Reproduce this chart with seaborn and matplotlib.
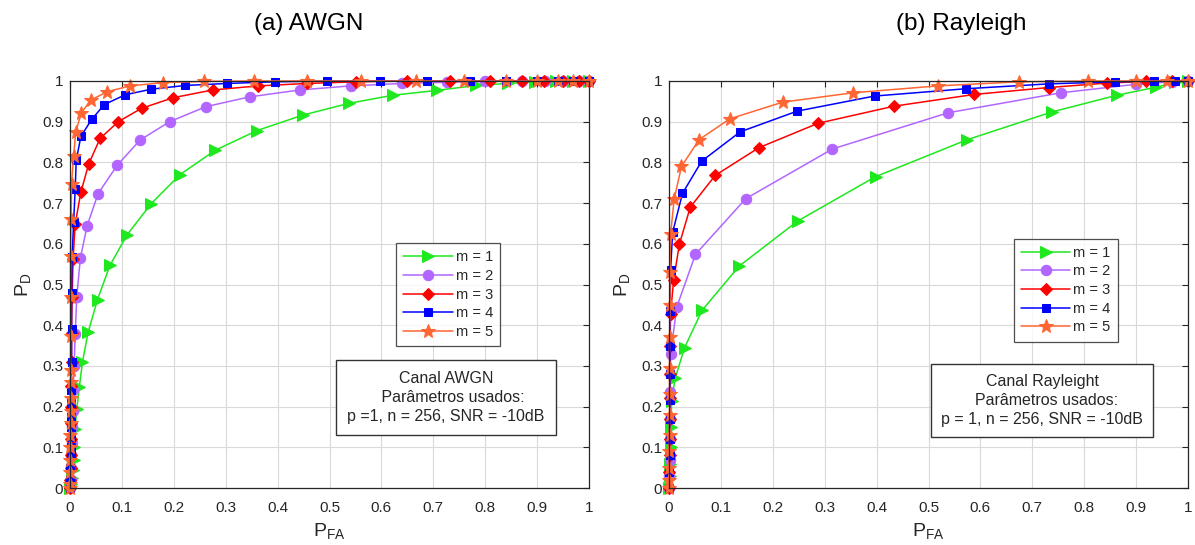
import matplotlib
matplotlib.use("Agg")
import matplotlib.pyplot as plt
from matplotlib.patches import Rectangle
import seaborn as sns

# ---------------- data: ROC curves (P_FA, P_D) ----------------
labels = ["m = 1", "m = 2", "m = 3", "m = 4", "m = 5"]

# (a) AWGN channel
awgn_pfa_m1 = [0, 0.002, 0.004, 0.005, 0.007, 0.008, 0.0095, 0.013, 0.018, 0.024, 0.035, 0.053, 0.077,
               0.11, 0.156, 0.212, 0.28, 0.36, 0.448, 0.537, 0.622, 0.707, 0.783, 0.843, 0.896, 0.936, 0.97, 1.0]
awgn_pd_m1 = [0, 0.01, 0.025, 0.045, 0.07, 0.10, 0.144, 0.193, 0.248, 0.31, 0.383, 0.463, 0.547,
              0.622, 0.698, 0.77, 0.83, 0.878, 0.916, 0.945, 0.965, 0.977, 0.989, 0.994, 0.998, 0.999, 1.0, 1.0]

awgn_pfa_m2 = [0, 0.001, 0.002, 0.002, 0.003, 0.004, 0.005, 0.006, 0.008, 0.01, 0.013, 0.02, 0.033, 0.054,
               0.091, 0.135, 0.192, 0.262, 0.346, 0.443, 0.541, 0.64, 0.727, 0.80, 0.87, 0.916, 0.95, 0.98, 1.0]
awgn_pd_m2 = [0, 0.02, 0.05, 0.08, 0.11, 0.15, 0.19, 0.24, 0.30, 0.378, 0.47, 0.565, 0.644, 0.723,
              0.793, 0.855, 0.90, 0.937, 0.961, 0.978, 0.988, 0.994, 0.997, 0.999, 1.0, 1.0, 1.0, 1.0, 1.0]

awgn_pfa_m3 = [0, 0.0005, 0.001, 0.001, 0.0015, 0.002, 0.002, 0.0025, 0.003, 0.003, 0.004, 0.006, 0.01,
               0.021, 0.036, 0.058, 0.093, 0.138, 0.199, 0.275, 0.363, 0.456, 0.552, 0.649, 0.733, 0.81,
               0.87, 0.913, 0.95, 0.98, 1.0]
awgn_pd_m3 = [0, 0.02, 0.05, 0.08, 0.12, 0.16, 0.20, 0.25, 0.31, 0.38, 0.47, 0.563, 0.649,
              0.727, 0.796, 0.859, 0.90, 0.933, 0.959, 0.978, 0.988, 0.994, 0.998, 1.0, 1.0, 1.0,
              1.0, 1.0, 1.0, 1.0, 1.0]

awgn_pfa_m4 = [0, 0.0005, 0.0005, 0.001, 0.001, 0.001, 0.0015, 0.0015, 0.002, 0.002, 0.003, 0.003, 0.003,
               0.004, 0.007, 0.010, 0.012, 0.021, 0.042, 0.066, 0.106, 0.157, 0.222, 0.303, 0.395, 0.496,
               0.597, 0.688, 0.77, 0.84, 0.90, 0.94, 0.97, 1.0]
awgn_pd_m4 = [0, 0.02, 0.05, 0.08, 0.10, 0.125, 0.15, 0.175, 0.21, 0.24, 0.31, 0.39, 0.48,
              0.567, 0.653, 0.735, 0.805, 0.864, 0.906, 0.942, 0.966, 0.98, 0.989, 0.994, 0.998, 1.0,
              1.0, 1.0, 1.0, 1.0, 1.0, 1.0, 1.0, 1.0]

awgn_pfa_m5 = [0, 0, 0.0005, 0.0005, 0.0005, 0.0005, 0.001, 0.001, 0.001, 0.001, 0.001, 0.001, 0.001, 0.001,
               0.002, 0.003, 0.007, 0.011, 0.022, 0.04, 0.072, 0.116, 0.179, 0.259, 0.354, 0.456, 0.56,
               0.667, 0.76, 0.84, 0.90, 0.94, 0.97, 1.0]
awgn_pd_m5 = [0, 0.01, 0.04, 0.07, 0.10, 0.13, 0.16, 0.19, 0.22, 0.26, 0.29, 0.374, 0.47, 0.57,
              0.66, 0.748, 0.815, 0.875, 0.922, 0.953, 0.974, 0.988, 0.996, 0.999, 1.0, 1.0, 1.0,
              1.0, 1.0, 1.0, 1.0, 1.0, 1.0, 1.0]

# (b) Rayleigh channel
ray_pfa_m1 = [0, 0.001, 0.002, 0.003, 0.004, 0.005, 0.012, 0.03, 0.064, 0.135, 0.248, 0.398, 0.575,
              0.738, 0.863, 0.939, 0.975, 1.0]
ray_pd_m1 = [0, 0.03, 0.06, 0.10, 0.15, 0.213, 0.27, 0.345, 0.437, 0.545, 0.656, 0.765, 0.856,
             0.924, 0.965, 0.985, 0.997, 1.0]

ray_pfa_m2 = [0, 0.0005, 0.001, 0.001, 0.0015, 0.002, 0.003, 0.015, 0.051, 0.148, 0.315, 0.538, 0.755,
              0.90, 0.97, 1.0]
ray_pd_m2 = [0, 0.03, 0.07, 0.12, 0.17, 0.237, 0.329, 0.445, 0.574, 0.711, 0.833, 0.922, 0.971,
             0.992, 0.998, 1.0]

ray_pfa_m3 = [0, 0.0005, 0.001, 0.001, 0.0015, 0.0015, 0.002, 0.002, 0.003, 0.009, 0.02, 0.041, 0.089,
              0.173, 0.287, 0.433, 0.588, 0.732, 0.844, 0.92, 0.97, 1.0]
ray_pd_m3 = [0, 0.04, 0.08, 0.12, 0.17, 0.22, 0.28, 0.35, 0.428, 0.512, 0.599, 0.69, 0.768,
             0.836, 0.896, 0.938, 0.967, 0.984, 0.995, 0.999, 1.0, 1.0]

ray_pfa_m4 = [0, 0.0005, 0.001, 0.001, 0.0015, 0.0015, 0.002, 0.002, 0.002, 0.003, 0.007, 0.026, 0.063,
              0.137, 0.247, 0.396, 0.572, 0.732, 0.859, 0.935, 0.975, 1.0]
ray_pd_m4 = [0, 0.04, 0.08, 0.12, 0.17, 0.215, 0.28, 0.348, 0.434, 0.535, 0.628, 0.724, 0.803,
             0.875, 0.926, 0.963, 0.981, 0.993, 0.998, 1.0, 1.0, 1.0]

ray_pfa_m5 = [0, 0, 0.0005, 0.0005, 0.001, 0.001, 0.001, 0.001, 0.001, 0.002, 0.002, 0.003, 0.01,
              0.024, 0.058, 0.117, 0.219, 0.354, 0.518, 0.674, 0.807, 0.90, 0.96, 1.0]
ray_pd_m5 = [0, 0.02, 0.05, 0.09, 0.13, 0.18, 0.23, 0.295, 0.37, 0.449, 0.531, 0.623, 0.71,
             0.79, 0.856, 0.907, 0.948, 0.971, 0.988, 0.998, 1.0, 1.0, 1.0, 1.0]

ticks = [0, 0.1, 0.2, 0.3, 0.4, 0.5, 0.6, 0.7, 0.8, 0.9, 1]
tick_labels = ["0", "0.1", "0.2", "0.3", "0.4", "0.5", "0.6", "0.7", "0.8", "0.9", "1"]

# ---------------- styling ----------------
sns.set_style("white")
plt.rcParams["font.family"] = ["Liberation Sans", "DejaVu Sans"]
plt.rcParams["mathtext.default"] = "regular"

colors = ["#1ee81e", "#b266ff", "#ff0000", "#0000ff", "#ff6633"]
markers = [">", "o", "D", "s", "*"]
msizes = [9, 7.5, 6.5, 6, 10.5]
axis_col = "#262626"

fig = plt.figure(figsize=(11.95, 5.45), dpi=100)
W, H = 1195, 545
ax1 = fig.add_axes([70 / W, 1 - 488 / H, 519 / W, 407 / H])
ax2 = fig.add_axes([669 / W, 1 - 488 / H, 519 / W, 407 / H])

awgn = [(awgn_pfa_m1, awgn_pd_m1), (awgn_pfa_m2, awgn_pd_m2), (awgn_pfa_m3, awgn_pd_m3),
        (awgn_pfa_m4, awgn_pd_m4), (awgn_pfa_m5, awgn_pd_m5)]
ray = [(ray_pfa_m1, ray_pd_m1), (ray_pfa_m2, ray_pd_m2), (ray_pfa_m3, ray_pd_m3),
       (ray_pfa_m4, ray_pd_m4), (ray_pfa_m5, ray_pd_m5)]


def draw_panel(ax, curves, legend_anchor, box, box_lines):
    for (pfa, pd), lab, c, mk, ms in zip(curves, labels, colors, markers, msizes):
        sns.lineplot(x=pfa, y=pd, ax=ax, sort=False, estimator=None, color=c,
                     marker=mk, markersize=ms, markeredgecolor=c, markerfacecolor=c,
                     linewidth=1.1, label=lab, clip_on=False)
    ax.set_xlim(0, 1)
    ax.set_ylim(0, 1)
    ax.set_xticks(ticks)
    ax.set_xticklabels(tick_labels)
    ax.set_yticks(ticks)
    ax.set_yticklabels(tick_labels)
    ax.grid(True, color="#d9d9d9", linewidth=0.8)
    ax.set_axisbelow(True)
    for s in ax.spines.values():
        s.set_color(axis_col)
        s.set_linewidth(0.9)
    ax.tick_params(direction="in", length=4, width=0.8, top=True, right=True,
                   colors=axis_col, labelcolor=axis_col, labelsize=11)
    ax.tick_params(axis="x", pad=9)
    ax.tick_params(axis="y", pad=5)
    ax.set_xlabel("P$_{FA}$", fontsize=14, color=axis_col)
    ax.set_ylabel("P$_{D}$", fontsize=14, color=axis_col)
    ax.xaxis.set_label_coords(0.5, -0.082)
    ax.yaxis.set_label_coords(-0.072, 0.5)

    leg = ax.legend(loc="upper left", bbox_to_anchor=legend_anchor, frameon=True, fancybox=False,
                    fontsize=10.5, handlelength=3.4, handletextpad=0.2, labelspacing=0.32,
                    borderpad=0.5, borderaxespad=0)
    leg.get_frame().set_edgecolor("#222222")
    leg.get_frame().set_linewidth(0.9)
    for t in leg.get_texts():
        t.set_color(axis_col)

    x0, y0, w, h = box
    ax.add_patch(Rectangle((x0, y0), w, h, transform=ax.transAxes, facecolor="white",
                           edgecolor="#333333", linewidth=1.0, zorder=5, clip_on=False))
    ax.text(x0 + w / 2, y0 + h / 2, box_lines, transform=ax.transAxes, ha="center", va="center",
            fontsize=11.5, color=axis_col, linespacing=1.3, zorder=6, multialignment="center")


draw_panel(ax1, awgn, (0.628, 0.602),
           ((336 - 70) / 519, (488 - 435) / 407, 220 / 519, 75 / 407),
           "Canal AWGN\n   Parâmetros usados:\np =1, n = 256, SNR = -10dB")
draw_panel(ax2, ray, (0.664, 0.613),
           ((931 - 669) / 519, (488 - 437) / 407, 222 / 519, 73 / 407),
           "Canal Rayleight\n  Parâmetros usados:\np = 1, n = 256, SNR = -10dB")

fig.text(309 / W, 1 - 24 / H, "(a) AWGN", ha="center", va="center", fontsize=17.5, color="black")
fig.text(961 / W, 1 - 24 / H, "(b) Rayleigh", ha="center", va="center", fontsize=17.5, color="black")

fig.savefig("out.png", dpi=100, facecolor="white")
